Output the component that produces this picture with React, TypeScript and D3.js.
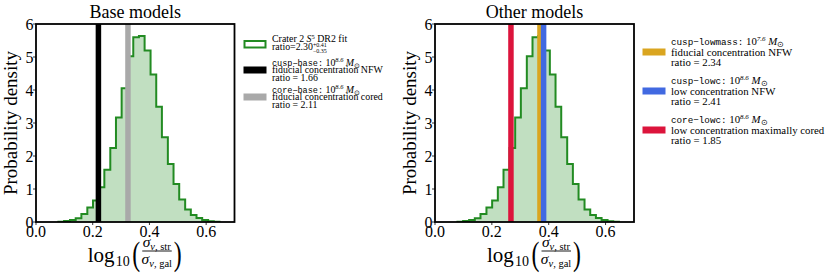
import React from "react";
import * as d3 from "d3";

// ---- data ----
const binEdges = [0.079, 0.099, 0.12, 0.14, 0.16, 0.181, 0.201, 0.221, 0.241, 0.262, 0.282, 0.302, 0.323, 0.343, 0.363, 0.383, 0.404, 0.424, 0.444, 0.465, 0.485, 0.505, 0.526, 0.546, 0.566, 0.586, 0.607, 0.627, 0.647];
const density = [0.01, 0.03, 0.06, 0.11, 0.24, 0.44, 0.65, 1.05, 1.58, 2.24, 3.17, 4.05, 5.02, 5.6, 5.64, 5.2, 4.47, 3.49, 2.57, 1.76, 1.15, 0.68, 0.38, 0.21, 0.12, 0.06, 0.02, 0.01];

const xTicks = [0, 0.2, 0.4, 0.6];
const xTickLabels = ["0.0", "0.2", "0.4", "0.6"];
const yTicks = [0, 1, 2, 3, 4, 5, 6];

const baseNames = ["cusp\u2212base", "core\u2212base"];
const baseMass = ["8.6", "8.6"];
const baseDesc = ["fiducial concentration NFW", "fiducial concentration cored"];
const baseRatios = [1.66, 2.11];
const baseColors = ["#000000", "#a9a9a9"];

const otherNames = ["cusp\u2212lowmass", "cusp\u2212lowc", "core\u2212lowc"];
const otherMass = ["7.6", "8.6", "8.6"];
const otherDesc = ["fiducial concentration NFW", "low concentration NFW", "low concentration maximally cored"];
const otherRatios = [2.34, 2.41, 1.85];
const otherColors = ["#daa520", "#4169e1", "#dc143c"];

const SERIF = "'Liberation Serif', 'Times New Roman', serif";
const MONO = "'Liberation Mono', 'Courier New', monospace";
const GREEN = "#228b22";

const Y0 = 24;
const Y1 = 222;

function Panel({ x0, x1, title, ratios, colors, ylabX }: any) {
  const x = d3.scaleLinear().domain([0, 0.7]).range([x0, x1]);
  const y = d3.scaleLinear().domain([0, 6]).range([Y1, Y0]);
  let d = `M${x(binEdges[0])},${y(0)}`;
  density.forEach((v, i) => {
    d += `L${x(binEdges[i])},${y(v)}L${x(binEdges[i + 1])},${y(v)}`;
  });
  d += `L${x(binEdges[binEdges.length - 1])},${y(0)}`;
  const cx = (x0 + x1) / 2;
  const clipId = `clip${Math.round(x0)}`;
  const lp = cx - 3;
  const rp = cx + 38.5;
  return (
    <g>
      <defs>
        <clipPath id={clipId}>
          <rect x={x0} y={Y0} width={x1 - x0} height={Y1 - Y0} />
        </clipPath>
      </defs>
      <g clipPath={`url(#${clipId})`}>
        <path d={d + "Z"} fill={GREEN} fillOpacity={0.28} stroke="none" />
        <path d={d} fill="none" stroke={GREEN} strokeWidth={2} strokeLinejoin="miter" />
        {ratios.map((r: number, i: number) => (
          <line key={i} x1={x(Math.log10(r))} x2={x(Math.log10(r))} y1={Y0} y2={Y1} stroke={colors[i]} strokeWidth={5.5} />
        ))}
      </g>
      <rect x={x0} y={Y0} width={x1 - x0} height={Y1 - Y0} fill="none" stroke="#000" strokeWidth={1.8} />
      {xTicks.map((t, i) => (
        <g key={i}>
          <line x1={x(t)} x2={x(t)} y1={Y1} y2={Y1 + 3} stroke="#000" strokeWidth={0.8} />
          <text x={x(t)} y={Y1 + 14.5} fontSize={16} fontFamily={SERIF} textAnchor="middle">{xTickLabels[i]}</text>
        </g>
      ))}
      {yTicks.map((t, i) => (
        <g key={i}>
          <line x1={x0 - 3} x2={x0} y1={y(t)} y2={y(t)} stroke="#000" strokeWidth={0.8} />
          <text x={x0 - 2.5} y={y(t) + 5.5} fontSize={16} fontFamily={SERIF} textAnchor="end">{t}</text>
        </g>
      ))}
      <text x={cx} y={17.5} fontSize={18} fontFamily={SERIF} textAnchor="middle">{title}</text>
      <text transform={`translate(${ylabX},${(Y0 + Y1) / 2}) rotate(-90)`} fontSize={19} fontFamily={SERIF} textAnchor="middle">Probability density</text>
      {/* x label */}
      <g fontFamily={SERIF}>
        <text x={cx - 47.5} y={262} fontSize={21}>log</text>
        <text x={cx - 19.5} y={266} fontSize={14}>10</text>
        <text x={lp} y={265} fontSize={34} transform={`translate(${lp},0) scale(0.7,1) translate(${-lp},0)`}>(</text>
        <text x={cx + 21.5} y={247} fontSize={15.5} textAnchor="middle">
          <tspan fontStyle="italic">σ</tspan>
          <tspan fontSize={10.5} dy={3}><tspan fontStyle="italic">v</tspan>, str</tspan>
        </text>
        <line x1={cx + 7} x2={cx + 36.5} y1={251} y2={251} stroke="#000" strokeWidth={0.9} />
        <text x={cx + 21.5} y={264} fontSize={15.5} textAnchor="middle">
          <tspan fontStyle="italic">σ</tspan>
          <tspan fontSize={10.5} dy={3}><tspan fontStyle="italic">v</tspan>, gal</tspan>
        </text>
        <text x={rp} y={265} fontSize={34} transform={`translate(${rp},0) scale(0.7,1) translate(${-rp},0)`}>)</text>
      </g>
    </g>
  );
}

function MassLine({ x, y, name, mass, fs }: any) {
  const mfs = fs * 0.86;
  return (
    <text x={x} y={y} fontSize={fs} fontFamily={SERIF}>
      <tspan fontFamily={MONO} fontSize={mfs}>{name + ":"}</tspan>
      <tspan> 10</tspan>
      <tspan fontSize={fs * 0.65} fontStyle="italic" dy={-fs * 0.38}>{mass}</tspan>
      <tspan fontStyle="italic" dy={fs * 0.38}> M</tspan>
      <tspan fontSize={fs * 0.7} dy={fs * 0.2}>⊙</tspan>
    </text>
  );
}

function LegendEntry({ x, cy, s, fs, name, mass, desc, ratio, color }: any) {
  const b = fs * 0.33;
  return (
    <g>
      <rect x={x - 28.5} y={cy - 3.5} width={23} height={7} fill={color} />
      <MassLine x={x} y={cy - s + b} name={name} mass={mass} fs={fs} />
      <text x={x} y={cy + b} fontSize={fs} fontFamily={SERIF}>{desc}</text>
      <text x={x} y={cy + s + b} fontSize={fs} fontFamily={SERIF}>{`ratio = ${ratio.toFixed(2)}`}</text>
    </g>
  );
}

export default function App() {
  const lx = 272;
  const rx = 671;
  const fsL = 9.9;
  const fsR = 10.8;
  return (
    <svg width={832} height={279} style={{ position: "absolute", left: 0, top: 0, background: "#fff" }}>
      <rect width={832} height={279} fill="#fff" />
      <Panel x0={36} x1={234.5} title="Base models" ratios={baseRatios} colors={baseColors} ylabX={17} />
      <Panel x0={435} x1={634} title="Other models" ratios={otherRatios} colors={otherColors} ylabX={416} />
      {/* left legend */}
      <g>
        <rect x={244.5} y={41} width={21} height={6.5} fill="#fff" stroke={GREEN} strokeWidth={2} />
        <text x={lx} y={39 + fsL * 0.33} fontSize={fsL} fontFamily={SERIF}>
          Crater 2 <tspan fontStyle="italic">S</tspan>
          <tspan fontSize={6.5} dy={-3.5}>5</tspan>
          <tspan dy={3.5}> DR2 fit</tspan>
        </text>
        <text x={lx} y={47 + fsL * 0.33} fontSize={fsL} fontFamily={SERIF}>
          ratio=2.30
          <tspan fontSize={6} dy={-3}>+0.41</tspan>
          <tspan fontSize={6} dx={-13.9} dy={5.5}>−0.35</tspan>
        </text>
        {baseNames.map((n, i) => (
          <LegendEntry key={i} x={lx} cy={70 + i * 27} s={7.6} fs={fsL} name={n} mass={baseMass[i]} desc={baseDesc[i]} ratio={baseRatios[i]} color={baseColors[i]} />
        ))}
      </g>
      <g>
        {otherNames.map((n, i) => (
          <LegendEntry key={i} x={rx} cy={52 + i * 39} s={10.6} fs={fsR} name={n} mass={otherMass[i]} desc={otherDesc[i]} ratio={otherRatios[i]} color={otherColors[i]} />
        ))}
      </g>
    </svg>
  );
}
